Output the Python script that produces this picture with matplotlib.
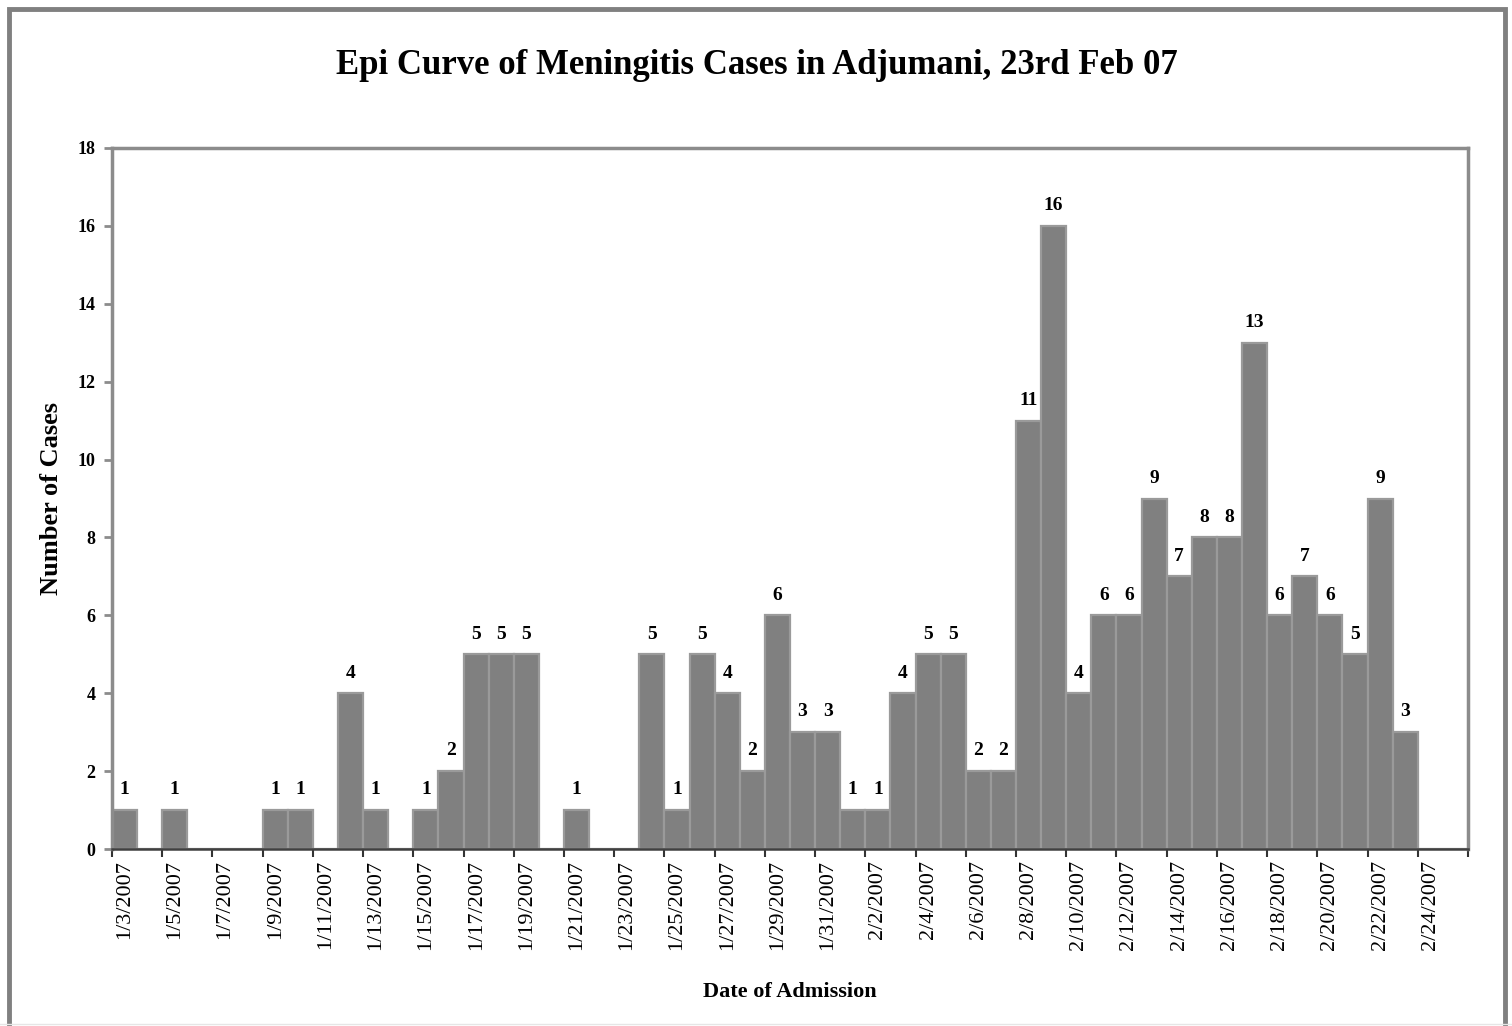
import pandas as pd
import matplotlib
matplotlib.use('Agg')
import matplotlib.pyplot as plt
from matplotlib.patches import Rectangle
from matplotlib.lines import Line2D

# daily admissions, 3 Jan - 25 Feb 2007
dates = pd.date_range('2007-01-03', '2007-02-25', freq='D')
cases = [1, 0, 1, 0, 0, 0, 1, 1, 0, 4, 1, 0, 1, 2, 5, 5, 5, 0, 1, 0, 0, 5, 1, 5, 4, 2,
         6, 3, 3,
         1, 1, 4, 5, 5, 2, 2, 11, 16, 4, 6, 6, 9, 7, 8, 8, 13, 6, 7, 6, 5, 9, 3, 0, 0]
day_labels = [f"{d.month}/{d.day}/{d.year}" for d in dates]

title = 'Epi Curve of Meningitis Cases in Adjumani, 23rd Feb 07'
ylabel = 'Number of Cases'
xlabel = 'Date of Admission'

serif = ['Liberation Serif', 'DejaVu Serif']
plt.rcParams['font.family'] = serif

fig = plt.figure(figsize=(15.12, 10.26), dpi=100)
ax = fig.add_axes([112 / 1512, 1 - 849 / 1026, (1468 - 112) / 1512, (849 - 148) / 1026])

pos = [i + 0.5 for i in range(len(cases))]
bars = ax.bar(pos, cases, width=1.0, color='#808080', edgecolor='#9a9a9a', linewidth=1.6)

for x, v in zip(pos, cases):
    if v > 0:
        ax.text(x, v + 0.3, str(v), ha='center', va='bottom', fontsize=14, fontweight='bold')

ax.set_xlim(0, len(cases))
ax.set_ylim(0, 18)
ax.set_yticks(range(0, 19, 2))
ax.set_yticklabels([str(t) for t in range(0, 19, 2)], fontsize=13, fontweight='bold')

# tick marks at slot boundaries every 2 days, labels at slot centres
ax.set_xticks(range(0, len(cases) + 1, 2))
ax.set_xticklabels([])
ax.set_xticks([p for p in pos[::2]], minor=True)
ax.set_xticklabels(day_labels[::2], minor=True, rotation=90, fontsize=16)
ax.tick_params(axis='x', which='minor', length=0, pad=8)
ax.tick_params(axis='x', which='major', length=6, width=1.5, color='#333333', direction='out')
ax.tick_params(axis='y', length=6, width=2, color='#8c8c8c', direction='out', pad=6)

for s in ['left', 'top', 'right']:
    ax.spines[s].set_color('#8c8c8c')
    ax.spines[s].set_linewidth(2.5)
ax.spines['bottom'].set_color('#404040')
ax.spines['bottom'].set_linewidth(1.8)

ax.set_ylabel(ylabel, fontsize=19, fontweight='bold')
ax.yaxis.set_label_coords(-0.036, 0.5)
ax.set_xlabel(xlabel, fontsize=16, fontweight='bold')
ax.xaxis.set_label_coords(0.5, -0.19)

fig.text(757 / 1512, 1 - 65 / 1026, title, ha='center', va='center', fontsize=25, fontweight='bold')

# outer chart frame
fig.add_artist(Rectangle((8.5 / 1512, -0.02), (1505 - 8.5) / 1512, 1.02 - 8.5 / 1026,
                         transform=fig.transFigure, fill=False, edgecolor='#808080', linewidth=3.5))
fig.add_artist(Line2D([0, 1], [1 - 1024 / 1026] * 2, transform=fig.transFigure, color='#e6e6e6', linewidth=1))

fig.savefig('out.png', dpi=100, facecolor='white')
